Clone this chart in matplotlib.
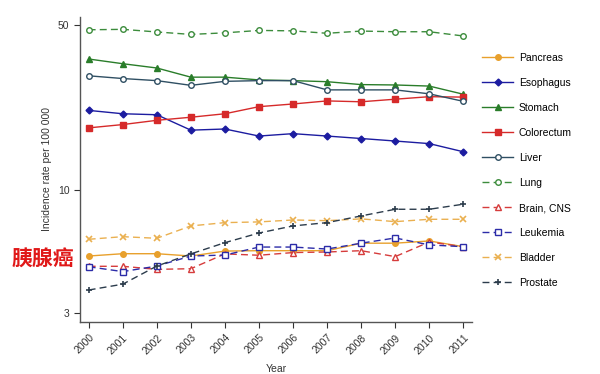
import matplotlib
matplotlib.use('Agg')
import matplotlib.pyplot as plt
from matplotlib.ticker import FixedLocator, NullLocator

plt.rcParams['font.family'] = ['Liberation Sans', 'Noto Sans CJK SC', 'DejaVu Sans']

years = list(range(2000, 2012))

# incidence rates per 100 000
pancreas   = [5.25, 5.37, 5.37, 5.25, 5.51, 5.53, 5.53, 5.53, 5.95, 5.95, 6.08, 5.75]
esophagus  = [21.7, 21.0, 20.8, 17.9, 18.1, 16.9, 17.3, 16.9, 16.5, 16.1, 15.7, 14.5]
stomach    = [35.8, 34.2, 32.8, 30.0, 30.0, 29.2, 29.0, 28.7, 27.9, 27.8, 27.5, 25.4]
colorectum = [18.3, 18.9, 19.7, 20.3, 21.0, 22.5, 23.1, 23.8, 23.6, 24.2, 24.8, 24.7]
liver      = [30.4, 29.6, 29.0, 27.7, 28.8, 29.0, 29.0, 26.5, 26.5, 26.5, 25.5, 23.7]
lung       = [47.6, 47.8, 46.6, 45.5, 46.2, 47.3, 47.1, 46.0, 47.0, 46.7, 46.7, 44.8]
brain_cns  = [4.75, 4.75, 4.61, 4.64, 5.36, 5.29, 5.43, 5.46, 5.53, 5.22, 6.02, 5.75]
leukemia   = [4.73, 4.51, 4.76, 5.25, 5.30, 5.73, 5.73, 5.62, 5.95, 6.26, 5.85, 5.75]
bladder    = [6.18, 6.34, 6.24, 7.04, 7.27, 7.32, 7.46, 7.41, 7.54, 7.34, 7.51, 7.51]
prostate   = [3.77, 3.99, 4.76, 5.36, 5.98, 6.57, 7.04, 7.27, 7.76, 8.28, 8.28, 8.70]

series = [
    ('Pancreas', pancreas, '#e8a02c', 'o', 'solid', True),
    ('Esophagus', esophagus, '#1c1ca0', 'D', 'solid', True),
    ('Stomach', stomach, '#2a7d2a', '^', 'solid', True),
    ('Colorectum', colorectum, '#d62a2a', 's', 'solid', True),
    ('Liver', liver, '#2f4f63', 'o', 'solid', False),
    ('Lung', lung, '#3c8c3c', 'o', 'dashed', False),
    ('Brain, CNS', brain_cns, '#d63c3c', '^', 'dashed', False),
    ('Leukemia', leukemia, '#2c2ca8', 's', 'dashed', False),
    ('Bladder', bladder, '#eab050', 'x', 'dashed', True),
    ('Prostate', prostate, '#2c3c4c', '+', 'dashed', True),
]

fig = plt.figure(figsize=(6, 3.74), dpi=100)
ax = fig.add_axes([0.133, 0.139, 0.654, 0.816])

for name, vals, col, mk, ls, filled in series:
    ms = 3.5 if mk == 'D' else 4
    kw = dict(color=col, lw=1.0, marker=mk, markersize=ms, label=name)
    if not filled:
        kw['markerfacecolor'] = 'white'
        kw['markeredgewidth'] = 1.0
    if mk in ('x', '+'):
        kw['markeredgewidth'] = 1.2
    line, = ax.plot(years, vals, **kw)
    if ls == 'dashed':
        line.set_dashes([5, 3])

ax.set_yscale('log')
ax.set_ylim(2.76, 54)
ax.set_xlim(1999.74, 2011.26)
ax.yaxis.set_major_locator(FixedLocator([3, 10, 50]))
ax.yaxis.set_minor_locator(NullLocator())
ax.set_yticklabels(['3', '10', '50'])
ax.set_xticks(years)
ax.set_xticklabels([str(y) for y in years], rotation=45, ha='right', rotation_mode='anchor')

for s in ['top', 'right']:
    ax.spines[s].set_visible(False)
for s in ['left', 'bottom']:
    ax.spines[s].set_color('#555555')
    ax.spines[s].set_linewidth(1.0)
ax.tick_params(axis='both', labelsize=7.5, colors='#333333', length=4)

ax.set_ylabel('Incidence rate per 100 000', fontsize=7.5, color='#333333', labelpad=4)
ax.set_xlabel('Year', fontsize=7.5, color='#333333', labelpad=6)

fig.legend(loc='upper left', bbox_to_anchor=(0.788, 0.883), frameon=False,
           fontsize=7.5, handlelength=3.0, labelspacing=1.44, handletextpad=0.5)

fig.text(0.02, 0.29, '胰腺癌', color='#e01818', fontsize=15, fontweight='bold',
         family=['Noto Sans CJK SC', 'DejaVu Sans'])

fig.savefig('out.png', dpi=100)
